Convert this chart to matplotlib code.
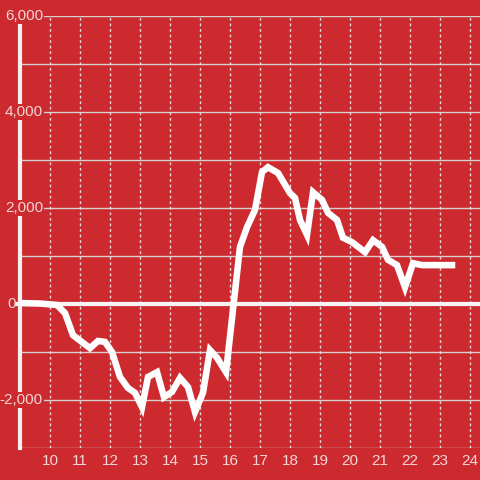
import matplotlib
matplotlib.use("Agg")
import matplotlib.pyplot as plt
import matplotlib.transforms as mtransforms

plt.rcParams['font.family'] = ['Liberation Sans', 'DejaVu Sans']

hours = [9.0, 9.667, 10.233, 10.5, 10.767, 11.333, 11.6, 11.833, 12.067, 12.333,
         12.6, 12.833, 13.067, 13.267, 13.567, 13.8, 14.067, 14.333, 14.6, 14.833,
         15.1, 15.333, 15.567, 15.867, 16.333, 16.567, 16.833, 17.067, 17.267,
         17.6, 18.0, 18.167, 18.333, 18.567, 18.767, 19.067, 19.267, 19.567,
         19.767, 20.067, 20.5, 20.767, 21.067, 21.267, 21.567, 21.833, 22.1,
         22.4, 23.4]
values = [20, 10, -20, -190, -650, -920, -770, -790, -1000, -1520,
          -1750, -1850, -2150, -1520, -1420, -1940, -1830, -1540, -1730, -2250,
          -1850, -960, -1120, -1420, 1190, 1600, 1960, 2750, 2850,
          2730, 2310, 2210, 1750, 1440, 2330, 2170, 1900, 1750,
          1380, 1290, 1080, 1330, 1190, 920, 810, 350, 850,
          810, 810]

y_ticks = [-2000, 0, 2000, 4000, 6000]
y_labels = ["-2,000", "0", "2,000", "4,000", "6,000"]
x_ticks = list(range(10, 25))
x_labels = [str(t) for t in x_ticks]

bg = '#cc2a2f'
txt = '#f3d6d6'

fig = plt.figure(figsize=(4.8, 4.8), dpi=100, facecolor=bg)
ax = fig.add_axes([20/480, 32/480, 460/480, 432/480])
ax.set_facecolor(bg)
ax.set_xlim(9, 24.333)
ax.set_ylim(-3000, 6000)

for s in ['top', 'right', 'bottom']:
    ax.spines[s].set_visible(False)
ax.spines['left'].set_color('#f4f0f0')
ax.spines['left'].set_linewidth(3)
ax.spines['left'].set_zorder(3)

# horizontal grid
for yv in range(-3000, 6001, 1000):
    if yv == 0:
        continue
    ax.axhline(yv, color='#d8d0d0', lw=1, zorder=1)
ax.axhline(0, color='#f8f4f4', lw=3, zorder=2, xmin=-0.006, clip_on=False)

# vertical dotted grid
for xv in x_ticks:
    ax.axvline(xv, color='#ead8d8', lw=1, ls=(0, (2, 2)), zorder=1)

ax.plot(hours, values, color='white', lw=4.7, solid_joinstyle='miter', zorder=8)

ax.set_xticks([])
ax.set_yticks([])

trans = mtransforms.blended_transform_factory(ax.transAxes, ax.transData)
for yv, lab in zip(y_ticks, y_labels):
    if yv == 0:
        ax.text(-0.008, yv, lab, transform=trans, ha='right', va='center',
                color=txt, fontsize=11, clip_on=False, zorder=6)
    else:
        ax.text(0.05, yv, lab, transform=trans, ha='right', va='center',
                color=txt, fontsize=11, clip_on=False, zorder=6,
                bbox=dict(facecolor=bg, edgecolor='none', pad=1.0))

transx = mtransforms.blended_transform_factory(ax.transData, ax.transAxes)
for xv, lab in zip(x_ticks, x_labels):
    ax.text(xv, -0.03, lab, transform=transx, ha='center', va='center',
            color=txt, fontsize=11, clip_on=False)

fig.savefig('out.png', dpi=100, facecolor=bg)
